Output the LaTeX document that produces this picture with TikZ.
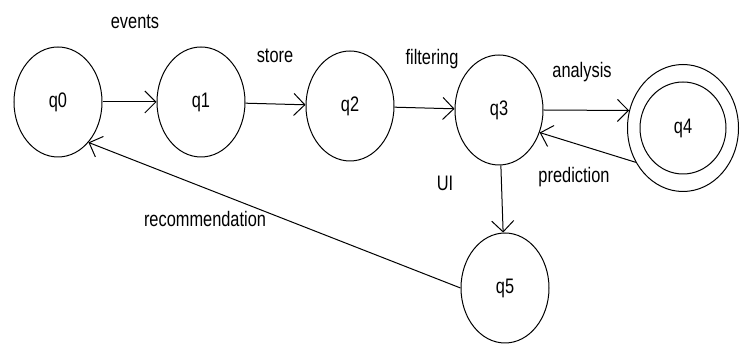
\documentclass[tikz,border=0pt]{standalone}
\usepackage{fontspec}
\setmainfont[FakeStretch=0.78]{Liberation Sans}
\usetikzlibrary{shapes.geometric,arrows.meta,positioning}

\begin{document}
\begin{tikzpicture}[
    x=1pt, y=1pt,
    every node/.style={font=\fontsize{21}{24}\selectfont},
    state/.style={ellipse, draw=black, line width=1pt, minimum width=88pt, minimum height=110pt, inner sep=0pt},
    label/.style={anchor=base},
    arrow/.style={-{Straight Barb[length=11pt,width=22pt]}, line width=1pt}
]

% States
\node[state] (q0) at (58,243) {q0};
\node[state] (q1) at (201,243) {q1};
\node[state] (q2) at (350,239) {q2};
\node[state] (q3) at (499,235) {q3};
\node[state, minimum width=86pt, minimum height=92pt] (q4) at (683,217) {q4};
\node[state, minimum width=111pt, minimum height=127pt] (q4o) at (683,217) {};
\node[state] (q5) at (505,57) {q5};

% Edge labels
\node[label] (events) at (135,316) {events};
\node[label] (store) at (275,282) {store};
\node[label] (filtering) at (432,280) {filtering};
\node[label] (analysis) at (582,267) {analysis};
\node[label] (prediction) at (574,162) {prediction};
\node[label] (ui) at (445,154) {UI};
\node[label] (recommendation) at (205,118) {recommendation};

% Arrows
\draw[arrow] (q0) -- (q1);
\draw[arrow] (q1) -- (q2);
\draw[arrow] (q2) -- (q3);
\draw[arrow] (q3.east) -- (q4o.162);
\draw[arrow] (q4o.216) -- (q3.-29);
\draw[arrow] (q3) -- (q5);
\draw[arrow] (q5.west) -- (q0.-53);

\useasboundingbox (0,0) rectangle (745,345);

\end{tikzpicture}
\end{document}
